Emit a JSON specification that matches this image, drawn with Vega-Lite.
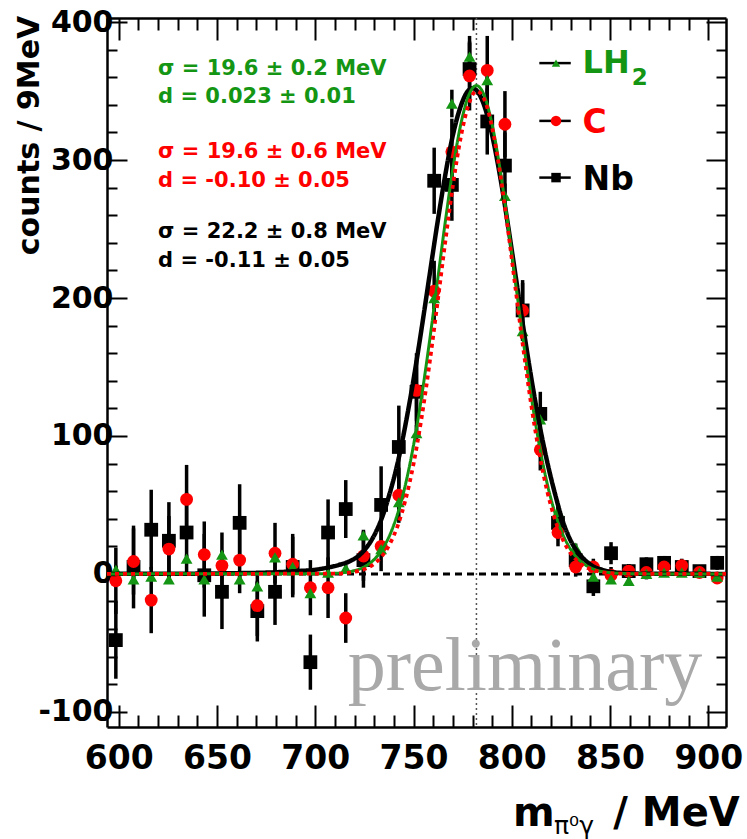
{
  "$schema": "https://vega.github.io/schema/vega-lite/v6.json",
  "width": 619,
  "height": 709,
  "autosize": {"type": "none"},
  "padding": {"left": 107, "top": 18, "right": 21, "bottom": 112},
  "background": "white",
  "config": {"view": {"stroke": null}},
  "datasets": {
    "pts": [
      {"target": "Nb", "m": 598.5, "counts": -48, "err": 28},
      {"target": "Nb", "m": 607.5, "counts": 5, "err": 30},
      {"target": "Nb", "m": 616.5, "counts": 32, "err": 29},
      {"target": "Nb", "m": 625.5, "counts": 24, "err": 28},
      {"target": "Nb", "m": 634.5, "counts": 30, "err": 29},
      {"target": "Nb", "m": 643.5, "counts": -1, "err": 30},
      {"target": "Nb", "m": 652.5, "counts": -13, "err": 27},
      {"target": "Nb", "m": 661.5, "counts": 37, "err": 28},
      {"target": "Nb", "m": 670.5, "counts": -27, "err": 22},
      {"target": "Nb", "m": 679.5, "counts": -13, "err": 24},
      {"target": "Nb", "m": 688.5, "counts": 5, "err": 22},
      {"target": "Nb", "m": 697.5, "counts": -64, "err": 20},
      {"target": "Nb", "m": 706.5, "counts": 30, "err": 24},
      {"target": "Nb", "m": 715.5, "counts": 47, "err": 21},
      {"target": "Nb", "m": 724.5, "counts": 10, "err": 20},
      {"target": "Nb", "m": 733.5, "counts": 50, "err": 28},
      {"target": "Nb", "m": 742.5, "counts": 92, "err": 30},
      {"target": "Nb", "m": 751.5, "counts": 132, "err": 28},
      {"target": "Nb", "m": 760.5, "counts": 285, "err": 24},
      {"target": "Nb", "m": 769.5, "counts": 282, "err": 26},
      {"target": "Nb", "m": 778.5, "counts": 366, "err": 24},
      {"target": "Nb", "m": 787.5, "counts": 328, "err": 24},
      {"target": "Nb", "m": 796.5, "counts": 296, "err": 24},
      {"target": "Nb", "m": 805.5, "counts": 191, "err": 22},
      {"target": "Nb", "m": 814.5, "counts": 116, "err": 16},
      {"target": "Nb", "m": 823.5, "counts": 37, "err": 12},
      {"target": "Nb", "m": 832.5, "counts": 10, "err": 9},
      {"target": "Nb", "m": 841.5, "counts": -9, "err": 7},
      {"target": "Nb", "m": 850.5, "counts": 15, "err": 8},
      {"target": "Nb", "m": 859.5, "counts": 2, "err": 5},
      {"target": "Nb", "m": 868.5, "counts": 7, "err": 5},
      {"target": "Nb", "m": 877.5, "counts": 8, "err": 5},
      {"target": "Nb", "m": 886.5, "counts": 5, "err": 5},
      {"target": "Nb", "m": 895.5, "counts": 2, "err": 4},
      {"target": "Nb", "m": 904.5, "counts": 8, "err": 5},
      {"target": "C", "m": 598.5, "counts": -5, "err": 24},
      {"target": "C", "m": 607.5, "counts": 9, "err": 24},
      {"target": "C", "m": 616.5, "counts": -19, "err": 24},
      {"target": "C", "m": 625.5, "counts": 18, "err": 24},
      {"target": "C", "m": 634.5, "counts": 54, "err": 25},
      {"target": "C", "m": 643.5, "counts": 14, "err": 24},
      {"target": "C", "m": 652.5, "counts": 6, "err": 24},
      {"target": "C", "m": 661.5, "counts": 10, "err": 24},
      {"target": "C", "m": 670.5, "counts": -23, "err": 22},
      {"target": "C", "m": 679.5, "counts": 15, "err": 22},
      {"target": "C", "m": 688.5, "counts": 7, "err": 22},
      {"target": "C", "m": 697.5, "counts": -10, "err": 20},
      {"target": "C", "m": 706.5, "counts": -10, "err": 22},
      {"target": "C", "m": 715.5, "counts": -32, "err": 18},
      {"target": "C", "m": 724.5, "counts": 13, "err": 18},
      {"target": "C", "m": 733.5, "counts": 20, "err": 18},
      {"target": "C", "m": 742.5, "counts": 57, "err": 20},
      {"target": "C", "m": 751.5, "counts": 133, "err": 22},
      {"target": "C", "m": 760.5, "counts": 205, "err": 22},
      {"target": "C", "m": 769.5, "counts": 306, "err": 24},
      {"target": "C", "m": 778.5, "counts": 361, "err": 25},
      {"target": "C", "m": 787.5, "counts": 365, "err": 25},
      {"target": "C", "m": 796.5, "counts": 326, "err": 24},
      {"target": "C", "m": 805.5, "counts": 191, "err": 20},
      {"target": "C", "m": 814.5, "counts": 90, "err": 15},
      {"target": "C", "m": 823.5, "counts": 30, "err": 10},
      {"target": "C", "m": 832.5, "counts": 5, "err": 7},
      {"target": "C", "m": 841.5, "counts": 5, "err": 6},
      {"target": "C", "m": 850.5, "counts": -1, "err": 6},
      {"target": "C", "m": 859.5, "counts": 2, "err": 5},
      {"target": "C", "m": 868.5, "counts": 1, "err": 5},
      {"target": "C", "m": 877.5, "counts": 5, "err": 5},
      {"target": "C", "m": 886.5, "counts": 6, "err": 5},
      {"target": "C", "m": 895.5, "counts": 1, "err": 4},
      {"target": "C", "m": 904.5, "counts": -3, "err": 4},
      {"target": "LH2", "m": 598.5, "counts": 3, "err": 3},
      {"target": "LH2", "m": 607.5, "counts": -4, "err": 3},
      {"target": "LH2", "m": 616.5, "counts": -2, "err": 3},
      {"target": "LH2", "m": 625.5, "counts": -4, "err": 3},
      {"target": "LH2", "m": 634.5, "counts": 11, "err": 3},
      {"target": "LH2", "m": 643.5, "counts": -4, "err": 3},
      {"target": "LH2", "m": 652.5, "counts": 14, "err": 3},
      {"target": "LH2", "m": 661.5, "counts": -4, "err": 3},
      {"target": "LH2", "m": 670.5, "counts": -9, "err": 3},
      {"target": "LH2", "m": 679.5, "counts": 12, "err": 3},
      {"target": "LH2", "m": 688.5, "counts": 5, "err": 3},
      {"target": "LH2", "m": 697.5, "counts": -14, "err": 3},
      {"target": "LH2", "m": 706.5, "counts": 1, "err": 3},
      {"target": "LH2", "m": 715.5, "counts": 4, "err": 3},
      {"target": "LH2", "m": 724.5, "counts": 28, "err": 4},
      {"target": "LH2", "m": 733.5, "counts": 18, "err": 4},
      {"target": "LH2", "m": 742.5, "counts": 52, "err": 5},
      {"target": "LH2", "m": 751.5, "counts": 102, "err": 6},
      {"target": "LH2", "m": 760.5, "counts": 200, "err": 8},
      {"target": "LH2", "m": 769.5, "counts": 341, "err": 10},
      {"target": "LH2", "m": 778.5, "counts": 375, "err": 10},
      {"target": "LH2", "m": 787.5, "counts": 358, "err": 10},
      {"target": "LH2", "m": 796.5, "counts": 274, "err": 9},
      {"target": "LH2", "m": 805.5, "counts": 176, "err": 7},
      {"target": "LH2", "m": 814.5, "counts": 112, "err": 6},
      {"target": "LH2", "m": 823.5, "counts": 45, "err": 4},
      {"target": "LH2", "m": 832.5, "counts": 19, "err": 3},
      {"target": "LH2", "m": 841.5, "counts": -2, "err": 3},
      {"target": "LH2", "m": 850.5, "counts": -4, "err": 3},
      {"target": "LH2", "m": 859.5, "counts": -5, "err": 3},
      {"target": "LH2", "m": 868.5, "counts": 0, "err": 3},
      {"target": "LH2", "m": 877.5, "counts": 1, "err": 3},
      {"target": "LH2", "m": 886.5, "counts": 1, "err": 3},
      {"target": "LH2", "m": 895.5, "counts": 1, "err": 3},
      {"target": "LH2", "m": 904.5, "counts": -2, "err": 3}
    ],
    "fit": [
      {"target": "Nb", "m": 594, "counts": 0},
      {"target": "Nb", "m": 640, "counts": 0.2},
      {"target": "Nb", "m": 660, "counts": 0.5},
      {"target": "Nb", "m": 680, "counts": 1.2},
      {"target": "Nb", "m": 690, "counts": 2},
      {"target": "Nb", "m": 700, "counts": 3},
      {"target": "Nb", "m": 706, "counts": 4.5},
      {"target": "Nb", "m": 712, "counts": 6.5},
      {"target": "Nb", "m": 718, "counts": 9.5},
      {"target": "Nb", "m": 722, "counts": 13},
      {"target": "Nb", "m": 726, "counts": 19},
      {"target": "Nb", "m": 730, "counts": 28},
      {"target": "Nb", "m": 734, "counts": 41},
      {"target": "Nb", "m": 738, "counts": 59},
      {"target": "Nb", "m": 742, "counts": 81},
      {"target": "Nb", "m": 746, "counts": 109},
      {"target": "Nb", "m": 750, "counts": 141},
      {"target": "Nb", "m": 754, "counts": 177},
      {"target": "Nb", "m": 758, "counts": 215},
      {"target": "Nb", "m": 762, "counts": 253},
      {"target": "Nb", "m": 766, "counts": 288},
      {"target": "Nb", "m": 770, "counts": 318},
      {"target": "Nb", "m": 774, "counts": 339},
      {"target": "Nb", "m": 778, "counts": 350.6},
      {"target": "Nb", "m": 780, "counts": 352},
      {"target": "Nb", "m": 782, "counts": 350.6},
      {"target": "Nb", "m": 786, "counts": 339.4},
      {"target": "Nb", "m": 790, "counts": 318},
      {"target": "Nb", "m": 794, "counts": 288.5},
      {"target": "Nb", "m": 798, "counts": 253.4},
      {"target": "Nb", "m": 802, "counts": 215.4},
      {"target": "Nb", "m": 806, "counts": 177.3},
      {"target": "Nb", "m": 810, "counts": 141.3},
      {"target": "Nb", "m": 814, "counts": 108.9},
      {"target": "Nb", "m": 818, "counts": 81.3},
      {"target": "Nb", "m": 822, "counts": 58},
      {"target": "Nb", "m": 826, "counts": 38},
      {"target": "Nb", "m": 830, "counts": 24},
      {"target": "Nb", "m": 834, "counts": 15},
      {"target": "Nb", "m": 838, "counts": 9},
      {"target": "Nb", "m": 842, "counts": 5},
      {"target": "Nb", "m": 846, "counts": 3},
      {"target": "Nb", "m": 850, "counts": 1.5},
      {"target": "Nb", "m": 856, "counts": 0.7},
      {"target": "Nb", "m": 862, "counts": 0.3},
      {"target": "Nb", "m": 870, "counts": 0.1},
      {"target": "Nb", "m": 909, "counts": 0},
      {"target": "LH2", "m": 594, "counts": 0},
      {"target": "LH2", "m": 700, "counts": 0.1},
      {"target": "LH2", "m": 710, "counts": 0.4},
      {"target": "LH2", "m": 716, "counts": 1.2},
      {"target": "LH2", "m": 720, "counts": 2.4},
      {"target": "LH2", "m": 726, "counts": 6},
      {"target": "LH2", "m": 730, "counts": 10.5},
      {"target": "LH2", "m": 734, "counts": 17.6},
      {"target": "LH2", "m": 738, "counts": 28.5},
      {"target": "LH2", "m": 742, "counts": 44.1},
      {"target": "LH2", "m": 746, "counts": 65.5},
      {"target": "LH2", "m": 750, "counts": 93.4},
      {"target": "LH2", "m": 754, "counts": 127.6},
      {"target": "LH2", "m": 758, "counts": 167.3},
      {"target": "LH2", "m": 762, "counts": 210.3},
      {"target": "LH2", "m": 766, "counts": 253.7},
      {"target": "LH2", "m": 770, "counts": 293.5},
      {"target": "LH2", "m": 774, "counts": 325.7},
      {"target": "LH2", "m": 778, "counts": 346.7},
      {"target": "LH2", "m": 782, "counts": 354},
      {"target": "LH2", "m": 786, "counts": 346.7},
      {"target": "LH2", "m": 790, "counts": 325.7},
      {"target": "LH2", "m": 794, "counts": 293.5},
      {"target": "LH2", "m": 798, "counts": 253.7},
      {"target": "LH2", "m": 802, "counts": 210.3},
      {"target": "LH2", "m": 806, "counts": 167.3},
      {"target": "LH2", "m": 810, "counts": 127.6},
      {"target": "LH2", "m": 814, "counts": 93.4},
      {"target": "LH2", "m": 818, "counts": 65.5},
      {"target": "LH2", "m": 822, "counts": 44.1},
      {"target": "LH2", "m": 826, "counts": 28.5},
      {"target": "LH2", "m": 830, "counts": 17.6},
      {"target": "LH2", "m": 834, "counts": 10.5},
      {"target": "LH2", "m": 838, "counts": 6},
      {"target": "LH2", "m": 842, "counts": 3.3},
      {"target": "LH2", "m": 846, "counts": 1.7},
      {"target": "LH2", "m": 850, "counts": 0.9},
      {"target": "LH2", "m": 856, "counts": 0.3},
      {"target": "LH2", "m": 870, "counts": 0},
      {"target": "LH2", "m": 909, "counts": 0},
      {"target": "C", "m": 594, "counts": 0},
      {"target": "C", "m": 710, "counts": 0.2},
      {"target": "C", "m": 716, "counts": 0.7},
      {"target": "C", "m": 720, "counts": 1.5},
      {"target": "C", "m": 726, "counts": 4},
      {"target": "C", "m": 730, "counts": 7.4},
      {"target": "C", "m": 734, "counts": 13},
      {"target": "C", "m": 738, "counts": 21.9},
      {"target": "C", "m": 742, "counts": 35.2},
      {"target": "C", "m": 746, "counts": 54.2},
      {"target": "C", "m": 750, "counts": 79.8},
      {"target": "C", "m": 754, "counts": 112.3},
      {"target": "C", "m": 758, "counts": 151.1},
      {"target": "C", "m": 762, "counts": 194.4},
      {"target": "C", "m": 766, "counts": 239.1},
      {"target": "C", "m": 770, "counts": 281.3},
      {"target": "C", "m": 774, "counts": 316.3},
      {"target": "C", "m": 778, "counts": 340.2},
      {"target": "C", "m": 782, "counts": 350},
      {"target": "C", "m": 786, "counts": 344},
      {"target": "C", "m": 790, "counts": 323.5},
      {"target": "C", "m": 794, "counts": 290.9},
      {"target": "C", "m": 798, "counts": 250},
      {"target": "C", "m": 802, "counts": 205.6},
      {"target": "C", "m": 806, "counts": 161.6},
      {"target": "C", "m": 810, "counts": 121.4},
      {"target": "C", "m": 814, "counts": 87.3},
      {"target": "C", "m": 818, "counts": 60},
      {"target": "C", "m": 822, "counts": 39.4},
      {"target": "C", "m": 826, "counts": 24.7},
      {"target": "C", "m": 830, "counts": 14.9},
      {"target": "C", "m": 834, "counts": 8.5},
      {"target": "C", "m": 838, "counts": 4.7},
      {"target": "C", "m": 842, "counts": 2.5},
      {"target": "C", "m": 846, "counts": 1.2},
      {"target": "C", "m": 850, "counts": 0.6},
      {"target": "C", "m": 860, "counts": 0.1},
      {"target": "C", "m": 909, "counts": 0}
    ]
  },
  "resolve": {"axis": {"x": "independent", "y": "independent"}},
  "layer": [
    {
      "data": {"values": [{}]},
      "mark": {"type": "rule", "color": "#555555", "strokeWidth": 1.5, "strokeDash": [2, 3]},
      "encoding": {"x": {"datum": 782, "type": "quantitative", "axis": null}}
    },
    {
      "data": {"values": [{}]},
      "mark": {"type": "rule", "color": "black", "strokeWidth": 3, "strokeDash": [7, 5]},
      "encoding": {"y": {"datum": 0, "type": "quantitative", "axis": null}}
    },
    {
      "data": {"name": "pts"},
      "mark": {"type": "errorbar", "color": "black", "thickness": 3.5},
      "encoding": {
        "x": {"field": "m", "type": "quantitative", "axis": null},
        "y": {"field": "counts", "type": "quantitative", "axis": null},
        "yError": {"field": "err"},
        "detail": {"field": "target"}
      }
    },
    {
      "data": {"name": "pts"},
      "mark": {"type": "errorbar", "color": "black", "thickness": 2.5},
      "encoding": {
        "x": {"field": "m", "type": "quantitative", "axis": null},
        "y": {"field": "counts", "type": "quantitative", "axis": null},
        "xError": {"value": 4},
        "detail": {"field": "target"}
      }
    },
    {
      "data": {"name": "pts"},
      "mark": {"type": "point", "filled": true, "opacity": 1},
      "encoding": {
        "x": {
          "field": "m", "type": "quantitative",
          "scale": {"domain": [594, 909], "nice": false, "zero": false},
          "axis": {
            "orient": "bottom", "title": null,
            "values": [600, 610, 620, 630, 640, 650, 660, 670, 680, 690, 700, 710, 720, 730, 740, 750, 760, 770, 780, 790, 800, 810, 820, 830, 840, 850, 860, 870, 880, 890, 900],
            "labelExpr": "datum.value % 50 === 0 ? '' + datum.value : ''",
            "tickSize": {"condition": {"test": "datum.value % 50 === 0", "value": -22}, "value": -12},
            "tickWidth": 2, "tickColor": "black",
            "domainColor": "black", "domainWidth": 2.5,
            "grid": false, "labelOverlap": false, "labelFlush": false, "labelBound": false,
            "labelFont": "DejaVu Sans", "labelFontWeight": "bold", "labelFontSize": 33,
            "labelColor": "black", "labelPadding": 37, "labelBaseline": "top"
          }
        },
        "y": {
          "field": "counts", "type": "quantitative",
          "scale": {"domain": [-111, 403], "nice": false, "zero": false},
          "axis": {
            "orient": "left",
            "values": [-100, -80, -60, -40, -20, 0, 20, 40, 60, 80, 100, 120, 140, 160, 180, 200, 220, 240, 260, 280, 300, 320, 340, 360, 380, 400],
            "labelExpr": "datum.value % 100 === 0 ? '' + datum.value : ''",
            "tickSize": {"condition": {"test": "datum.value % 100 === 0", "value": -20}, "value": -10},
            "tickWidth": 2, "tickColor": "black",
            "domainColor": "black", "domainWidth": 2.5,
            "grid": false, "labelOverlap": false, "labelFlush": false, "labelBound": false,
            "labelFont": "DejaVu Sans", "labelFontWeight": "bold", "labelFontSize": 30,
            "labelColor": "black", "labelPadding": 14,
            "title": "counts / 9MeV",
            "titleFont": "DejaVu Sans", "titleFontWeight": "bold", "titleFontSize": 30,
            "titleColor": "black", "titleAngle": 270,
            "titleAlign": "center", "titleBaseline": "middle",
            "titleX": -78, "titleY": 117
          }
        },
        "color": {"field": "target", "type": "nominal", "legend": null,
          "scale": {"domain": ["LH2", "C", "Nb"], "range": ["#149614", "#ff0000", "#000000"]}},
        "shape": {"field": "target", "type": "nominal", "legend": null,
          "scale": {"domain": ["LH2", "C", "Nb"], "range": ["triangle-up", "circle", "square"]}},
        "size": {"field": "target", "type": "nominal", "legend": null,
          "scale": {"domain": ["LH2", "C", "Nb"], "range": [140, 190, 160]}}
      }
    },
    {
      "data": {"name": "fit"},
      "mark": {"type": "line", "interpolate": "monotone", "clip": true},
      "encoding": {
        "x": {"field": "m", "type": "quantitative", "axis": null},
        "y": {"field": "counts", "type": "quantitative", "axis": null},
        "color": {"field": "target", "type": "nominal", "legend": null,
          "scale": {"domain": ["LH2", "C", "Nb"], "range": ["#149614", "#ff0000", "#000000"]}},
        "strokeDash": {"field": "target", "type": "nominal", "legend": null,
          "scale": {"domain": ["LH2", "C", "Nb"], "range": [[1, 0], [4, 4], [1, 0]]}},
        "strokeWidth": {"field": "target", "type": "nominal", "legend": null,
          "scale": {"domain": ["LH2", "C", "Nb"], "range": [3, 4.5, 2.5]}}
      }
    },
    {
      "data": {"name": "pts"},
      "mark": {"type": "point", "opacity": 0},
      "encoding": {
        "x": {
          "field": "m", "type": "quantitative",
          "axis": {
            "orient": "top", "title": null, "labels": false,
            "values": [600, 610, 620, 630, 640, 650, 660, 670, 680, 690, 700, 710, 720, 730, 740, 750, 760, 770, 780, 790, 800, 810, 820, 830, 840, 850, 860, 870, 880, 890, 900],
            "tickSize": {"condition": {"test": "datum.value % 50 === 0", "value": -22}, "value": -12},
            "tickWidth": 2, "tickColor": "black",
            "domainColor": "black", "domainWidth": 2.5, "grid": false
          }
        },
        "y": {
          "field": "counts", "type": "quantitative",
          "axis": {
            "orient": "right", "title": null, "labels": false,
            "values": [-100, -80, -60, -40, -20, 0, 20, 40, 60, 80, 100, 120, 140, 160, 180, 200, 220, 240, 260, 280, 300, 320, 340, 360, 380, 400],
            "tickSize": {"condition": {"test": "datum.value % 100 === 0", "value": -20}, "value": -10},
            "tickWidth": 2, "tickColor": "black",
            "domainColor": "black", "domainWidth": 2.5, "grid": false
          }
        }
      }
    },
    {
      "data": {"values": [{}]},
      "layer": [
        {"mark": {"type": "text", "text": "σ = 19.6 ± 0.2 MeV", "font": "DejaVu Sans", "fontWeight": "bold", "fontSize": 21, "color": "#149614", "align": "left", "baseline": "alphabetic"},
         "encoding": {"x": {"datum": 620, "type": "quantitative", "axis": null}, "y": {"datum": 361.8, "type": "quantitative", "axis": null}}},
        {"mark": {"type": "text", "text": "d = 0.023 ± 0.01", "font": "DejaVu Sans", "fontWeight": "bold", "fontSize": 21, "color": "#149614", "align": "left", "baseline": "alphabetic"},
         "encoding": {"x": {"datum": 620, "type": "quantitative", "axis": null}, "y": {"datum": 341.3, "type": "quantitative", "axis": null}}},
        {"mark": {"type": "text", "text": "σ = 19.6 ± 0.6 MeV", "font": "DejaVu Sans", "fontWeight": "bold", "fontSize": 21, "color": "#ff0000", "align": "left", "baseline": "alphabetic"},
         "encoding": {"x": {"datum": 620, "type": "quantitative", "axis": null}, "y": {"datum": 301.4, "type": "quantitative", "axis": null}}},
        {"mark": {"type": "text", "text": "d = -0.10 ± 0.05", "font": "DejaVu Sans", "fontWeight": "bold", "fontSize": 21, "color": "#ff0000", "align": "left", "baseline": "alphabetic"},
         "encoding": {"x": {"datum": 620, "type": "quantitative", "axis": null}, "y": {"datum": 280.8, "type": "quantitative", "axis": null}}},
        {"mark": {"type": "text", "text": "σ = 22.2 ± 0.8 MeV", "font": "DejaVu Sans", "fontWeight": "bold", "fontSize": 21, "color": "#000000", "align": "left", "baseline": "alphabetic"},
         "encoding": {"x": {"datum": 620, "type": "quantitative", "axis": null}, "y": {"datum": 243.4, "type": "quantitative", "axis": null}}},
        {"mark": {"type": "text", "text": "d = -0.11 ± 0.05", "font": "DejaVu Sans", "fontWeight": "bold", "fontSize": 21, "color": "#000000", "align": "left", "baseline": "alphabetic"},
         "encoding": {"x": {"datum": 620, "type": "quantitative", "axis": null}, "y": {"datum": 222.8, "type": "quantitative", "axis": null}}},
        {"mark": {"type": "rule", "color": "black", "strokeWidth": 2.5},
         "encoding": {"x": {"datum": 814, "type": "quantitative", "axis": null}, "x2": {"datum": 830}, "y": {"datum": 370.3, "type": "quantitative", "axis": null}}},
        {"mark": {"type": "rule", "color": "black", "strokeWidth": 2.5},
         "encoding": {"x": {"datum": 814, "type": "quantitative", "axis": null}, "x2": {"datum": 830}, "y": {"datum": 328.4, "type": "quantitative", "axis": null}}},
        {"mark": {"type": "rule", "color": "black", "strokeWidth": 2.5},
         "encoding": {"x": {"datum": 814, "type": "quantitative", "axis": null}, "x2": {"datum": 830}, "y": {"datum": 287.3, "type": "quantitative", "axis": null}}},
        {"mark": {"type": "point", "shape": "triangle-up", "filled": true, "opacity": 1, "color": "#149614", "size": 70},
         "encoding": {"x": {"datum": 822.5, "type": "quantitative", "axis": null}, "y": {"datum": 370.3, "type": "quantitative", "axis": null}}},
        {"mark": {"type": "point", "shape": "circle", "filled": true, "opacity": 1, "color": "#ff0000", "size": 110},
         "encoding": {"x": {"datum": 822.5, "type": "quantitative", "axis": null}, "y": {"datum": 328.4, "type": "quantitative", "axis": null}}},
        {"mark": {"type": "point", "shape": "square", "filled": true, "opacity": 1, "color": "#000000", "size": 90},
         "encoding": {"x": {"datum": 822.5, "type": "quantitative", "axis": null}, "y": {"datum": 287.3, "type": "quantitative", "axis": null}}},
        {"mark": {"type": "text", "text": "LH", "font": "DejaVu Sans", "fontWeight": "bold", "fontSize": 32, "color": "#149614", "align": "left", "baseline": "alphabetic"},
         "encoding": {"x": {"datum": 836, "type": "quantitative", "axis": null}, "y": {"datum": 363, "type": "quantitative", "axis": null}}},
        {"mark": {"type": "text", "text": "2", "font": "DejaVu Sans", "fontWeight": "bold", "fontSize": 23, "color": "#149614", "align": "left", "baseline": "alphabetic"},
         "encoding": {"x": {"datum": 861, "type": "quantitative", "axis": null}, "y": {"datum": 354.5, "type": "quantitative", "axis": null}}},
        {"mark": {"type": "text", "text": "C", "font": "DejaVu Sans", "fontWeight": "bold", "fontSize": 33, "color": "#ff0000", "align": "left", "baseline": "alphabetic"},
         "encoding": {"x": {"datum": 836, "type": "quantitative", "axis": null}, "y": {"datum": 319.5, "type": "quantitative", "axis": null}}},
        {"mark": {"type": "text", "text": "Nb", "font": "DejaVu Sans", "fontWeight": "bold", "fontSize": 33, "color": "#000000", "align": "left", "baseline": "alphabetic"},
         "encoding": {"x": {"datum": 836, "type": "quantitative", "axis": null}, "y": {"datum": 278.4, "type": "quantitative", "axis": null}}},
        {"mark": {"type": "text", "text": "preliminary", "font": "Liberation Serif", "fontSize": 76, "color": "#a9a9a9", "align": "center", "baseline": "alphabetic"},
         "encoding": {"x": {"datum": 806.7, "type": "quantitative", "axis": null}, "y": {"datum": -84.2, "type": "quantitative", "axis": null}}},
        {"mark": {"type": "text", "text": "m", "font": "DejaVu Sans", "fontWeight": "bold", "fontSize": 40, "color": "black", "align": "left", "baseline": "alphabetic"},
         "encoding": {"x": {"datum": 800.6, "type": "quantitative", "axis": null}, "y": {"datum": -182.8, "type": "quantitative", "axis": null}}},
        {"mark": {"type": "text", "text": "π⁰γ", "font": "DejaVu Sans", "fontSize": 25, "color": "black", "align": "left", "baseline": "alphabetic"},
         "encoding": {"x": {"datum": 821.5, "type": "quantitative", "axis": null}, "y": {"datum": -188.5, "type": "quantitative", "axis": null}}},
        {"mark": {"type": "text", "text": "/ MeV", "font": "DejaVu Sans", "fontWeight": "bold", "fontSize": 40, "color": "black", "align": "right", "baseline": "alphabetic"},
         "encoding": {"x": {"datum": 916, "type": "quantitative", "axis": null}, "y": {"datum": -182.8, "type": "quantitative", "axis": null}}}
      ]
    }
  ]
}
